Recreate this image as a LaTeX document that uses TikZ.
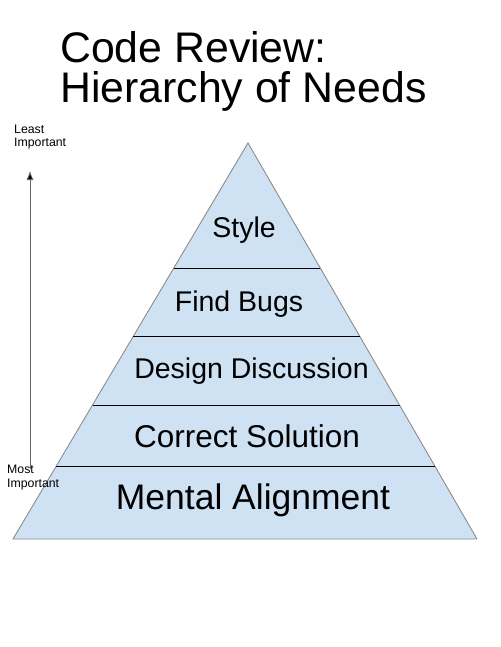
\documentclass[tikz,border=0pt]{standalone}
\usepackage{fontspec}
\setmainfont{Liberation Sans}
\usetikzlibrary{calc,arrows.meta}
\definecolor{tierfill}{HTML}{CFE2F3}
\definecolor{edgegrey}{HTML}{8C8C8C}
\tikzset{
  lbl/.style={anchor=base,inner sep=0pt,font=\fontsize{28.5}{30}\selectfont},
  side/.style={anchor=base west,inner sep=0pt,align=left,font=\fontsize{12.3}{13.5}\selectfont},
  titletext/.style={anchor=base west,inner sep=0pt,font=\fontsize{42.8}{40}\selectfont},
  divider/.style={draw=black,line width=0.9pt},
}
\begin{document}
\begin{tikzpicture}[x=1pt,y=-1pt]
\useasboundingbox (0,0) rectangle (500,647);
% title
\node[titletext] (t1) at (60,63) {Code Review:};
\node[titletext] (t2) at (60,103) {Hierarchy of Needs};
% pyramid
\coordinate (apex) at (248,143);
\coordinate (bl) at (13,539);
\coordinate (br) at (477,539);
\fill[tierfill] (apex) -- (bl) -- (br) -- cycle;
\draw[edgegrey,line width=0.9pt] (br) -- (apex) -- (bl) -- (br);
% dividers
\foreach \y/\n in {268/a,336/b,405/c,466/d}{
  \pgfmathsetmacro{\t}{(\y-143)/396}
  \coordinate (L\n) at ($(apex)!\t!(bl)$);
  \coordinate (R\n) at ($(apex)!\t!(br)$);
  \draw[divider] (L\n) -- (R\n);
}
% labels
\node[lbl] (style) at (244,237) {Style};
\node[lbl] (bugs) at (239,311) {Find Bugs};
\node[lbl] (design) at (251.5,378) {Design Discussion};
\node[lbl,font=\fontsize{31.5}{32}\selectfont] (correct) at (247,447) {Correct Solution};
\node[lbl,font=\fontsize{35.5}{37}\selectfont] (mental) at (253,509) {Mental Alignment};
% side arrow
\node[side] (least) at (14,147) {Least\\Important};
\node[side] (most) at (7,487) {Most\\Important};
\coordinate (abot) at (30,469);
\coordinate (atop) at (30,171);
\draw[draw=black!60,line width=0.8pt,-{Latex[length=9pt,width=7pt,fill=black]}] (abot) -- (atop);
\end{tikzpicture}
\end{document}
